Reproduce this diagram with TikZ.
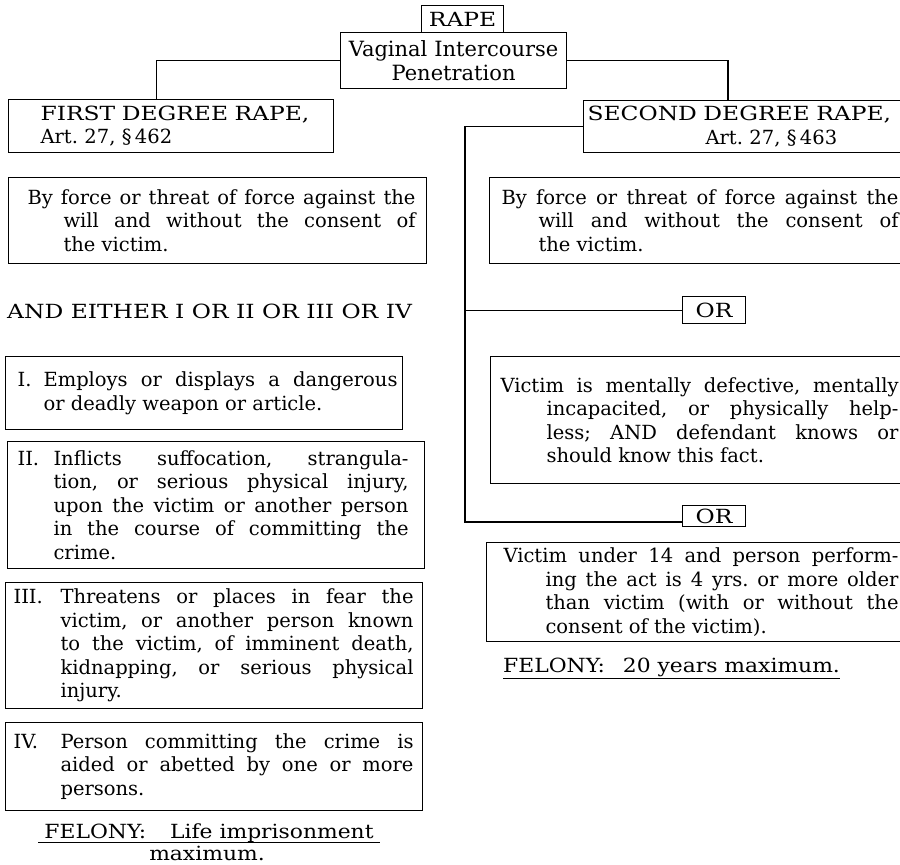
\documentclass[tikz,border=0pt]{standalone}
\usepackage{fontspec}
\setmainfont{DejaVu Serif}
\newfontfamily\widefont[FakeStretch=1.2]{DejaVu Serif}
\newfontfamily\felonyfont[FakeStretch=1.12]{DejaVu Serif}
\begin{document}
\frenchspacing
\begin{tikzpicture}[x=1pt,y=-1pt,
    lbl/.style={font=\fontsize{19.5}{23.5}\selectfont, inner sep=0pt},
    widelbl/.style={lbl, font=\fontsize{19.5}{23.5}\widefont},
    felonylbl/.style={lbl, font=\fontsize{19.5}{23.5}\felonyfont},
    frame/.style={lbl, draw, line width=1.1pt, anchor=north west},
    rulebox/.style n args={5}{frame, text width=#1, minimum width=#1, minimum height=#2,
      align=justify, execute at begin node={\leftskip=#3\rightskip=#4\hangindent=#5\hangafter=1\tolerance=10000}},
    headbox/.style n args={3}{frame, text width=#1, minimum width=#1, minimum height=#2,
      align=left, execute at begin node={\leftskip=#3}},
    link/.style={line width=1.1pt}
  ]
  \useasboundingbox (0,0) rectangle (900,865);
  \clip (0,0) rectangle (900,865);

  % top of the chart
  \node[frame, minimum width=82pt, minimum height=27pt] (rape) at (421,5) {\widefont RAPE};
  \node[frame, text width=226pt, minimum height=56pt, align=center, font=\fontsize{21}{24}\selectfont] (vag) at (340,32)
    {Vaginal Intercourse\\Penetration};

  % first degree
  \node[headbox={325pt}{53pt}{32pt}] (first) at (8,99) {{\widefont FIRST DEGREE RAPE,}\\Art. 27, \S\,462};
  \node[rulebox={418pt}{86pt}{19pt}{11pt}{36pt}] (force1) at (8,177)
    {By force or threat of force against the\linebreak will and without the consent of\linebreak the victim.};
  \node[widelbl, anchor=base west] (either) at (7,318) {AND EITHER I OR II OR III OR IV};
  \node[rulebox={397pt}{73pt}{12pt}{5pt}{26pt}] (one) at (5,356)
    {\makebox[26pt][l]{I.}Employs or displays a dangerous\linebreak or deadly weapon or article.};
  \node[rulebox={417pt}{127pt}{10pt}{16pt}{36pt}] (two) at (7,441)
    {\makebox[36pt][l]{II.}Inflicts suffocation, strangula-\linebreak tion, or serious physical injury,\linebreak
     upon the victim or another person\linebreak in the course of committing the\linebreak crime.};
  \node[rulebox={417pt}{126pt}{8pt}{9pt}{47pt}] (three) at (5,582)
    {\makebox[47pt][l]{III.}Threatens or places in fear the\linebreak victim, or another person known\linebreak
     to the victim, of imminent death,\linebreak kidnapping, or serious physical\linebreak injury.};
  \node[rulebox={417pt}{88pt}{8pt}{9pt}{47pt}] (four) at (5,722)
    {\makebox[47pt][l]{IV.}Person committing the crime is\linebreak aided or abetted by one or more\linebreak persons.};
  \node[felonylbl, inner xsep=6pt, anchor=base] (lifemax) at (209,838) {FELONY:\hspace{24pt}Life imprisonment};
  \node[felonylbl, anchor=base] (maxline) at (207,860) {maximum.};
  \draw[link] (lifemax.south west) -- (lifemax.south east);

  % second degree
  \node[headbox={330pt}{52pt}{4pt}] (second) at (583,100)
    {{\widefont SECOND DEGREE RAPE,}\\\hspace*{118pt}Art. 27, \S\,463};
  \node[rulebox={420pt}{86pt}{12pt}{11pt}{37pt}] (force2) at (489,177)
    {By force or threat of force against the\linebreak will and without the consent of\linebreak the victim.};
  \node[frame, minimum width=63pt, minimum height=27pt] (or1) at (682,296) {\widefont OR};
  \node[rulebox={420pt}{127pt}{10pt}{12pt}{46pt}] (helpless) at (490,356)
    {Victim is mentally defective, mentally\linebreak incapacited, or physically help-\linebreak
     less; AND defendant knows or\linebreak should know this fact.};
  \node[frame, minimum width=63pt, minimum height=21pt] (or2) at (682,505) {\widefont OR};
  \node[rulebox={424pt}{99pt}{17pt}{12pt}{42pt}] (under14) at (486,542)
    {Victim under 14 and person perform-\linebreak ing the act is 4 yrs. or more older\linebreak
     than victim (with or without the\linebreak consent of the victim).};
  \node[felonylbl, inner ysep=2pt, anchor=base west] (twenty) at (503,672) {FELONY:\hspace{18pt}20 years maximum.};
  \draw[link] (twenty.south west) -- (twenty.south east);

  % connectors
  \coordinate (spine) at (465,522);
  \draw[link] (vag.west) -| ([xshift=-15pt]first.north);
  \draw[link] (vag.east) -| ([xshift=145pt]second.north west);
  \draw[link] (second.west) -| (spine) -- (spine -| or2.west);
  \draw[link] (or1.west) -- (or1.west -| spine);
\end{tikzpicture}
\end{document}
